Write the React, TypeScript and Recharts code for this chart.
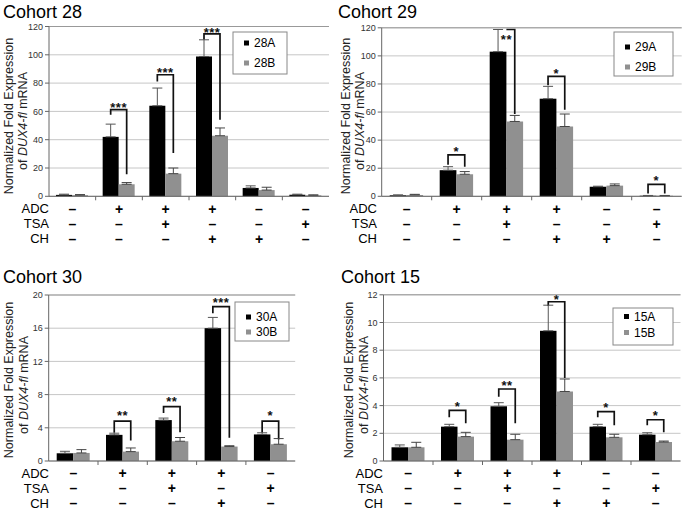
import {
  BarChart,
  Bar,
  XAxis,
  YAxis,
  CartesianGrid,
  ErrorBar,
  ReferenceLine,
} from "recharts";

const FONT = '"Liberation Sans", Arial, Helvetica, sans-serif';

// treatment rows under each panel
const adcSix = ["–", "+", "+", "+", "–", "–"];
const tsaSix = ["–", "–", "+", "–", "–", "+"];
const chSix = ["–", "–", "–", "+", "+", "–"];
const adcFive = ["–", "+", "+", "+", "–"];
const tsaFive = ["–", "–", "+", "–", "+"];
const chFive = ["–", "–", "–", "+", "–"];

// Cohort 28
const c28Names = ["28A", "28B"];
const c28A = [1.0, 42, 64, 98.8, 5.9, 1.1];
const c28AErr = [0.5, 9, 12.5, 11.8, 1.5, 0.4];
const c28B = [0.8, 8.5, 16, 42.8, 4.4, 0.7];
const c28BErr = [0.4, 1.2, 4, 5.5, 2, 0.3];
const c28Ticks = [0, 20, 40, 60, 80, 100, 120];
const c28Sig = [
  { cat: 1, stars: "***", top: 61.2, left: 57.7, right: 15.5, star: 64.5 },
  { cat: 2, stars: "***", top: 85.9, left: 81.2, right: 30.6, star: 89.6 },
  { cat: 3, stars: "***", top: 114.8, left: 110.6, right: 54.1, star: 117.8 },
];

// Cohort 29
const c29Names = ["29A", "29B"];
const c29A = [0.7, 18.6, 103, 69.5, 6.8, 0.4];
const c29AErr = [0.3, 2.5, 15.8, 8.8, 0.4, 0.2];
const c29B = [1.0, 15.7, 53.3, 49.7, 7.6, 0.4];
const c29BErr = [0.4, 1.9, 4.3, 8.9, 1.2, 0.2];
const c29Ticks = [0, 20, 40, 60, 80, 100, 120];
const c29Sig = [
  { cat: 1, stars: "*", top: 29.5, left: 22.4, right: 21, star: 33.5 },
  { cat: 2, stars: "**", top: 118.8, left: 118.8, right: 58.6, star: 113.4, from: "mid" },
  { cat: 3, stars: "*", top: 85.4, left: 79, right: 61.6, star: 89.5 },
  { cat: 5, stars: "*", top: 8.5, left: 2, right: 2, star: 13 },
];

// Cohort 30
const c30Names = ["30A", "30B"];
const c30A = [0.93, 3.15, 4.93, 16, 3.2];
const c30AErr = [0.24, 0.2, 0.24, 1.3, 0.2];
const c30B = [0.97, 1.13, 2.38, 1.74, 2.02];
const c30BErr = [0.4, 0.44, 0.45, 0.1, 0.68];
const c30Ticks = [0, 4, 8, 12, 16, 20];
const c30Sig = [
  { cat: 1, stars: "**", top: 4.8, left: 3.4, right: 2.46, star: 5.8 },
  { cat: 2, stars: "**", top: 6.55, left: 5.77, right: 3.47, star: 7.5 },
  { cat: 3, stars: "***", top: 18.6, left: 17.8, right: 2.8, star: 19.45 },
  { cat: 4, stars: "*", top: 4.8, left: 3.4, right: 2.6, star: 5.8 },
];

// Cohort 15
const c15Names = ["15A", "15B"];
const c15A = [0.99, 2.48, 3.95, 9.4, 2.48, 1.9];
const c15AErr = [0.17, 0.17, 0.26, 1.85, 0.17, 0.14];
const c15B = [0.99, 1.76, 1.54, 5.02, 1.71, 1.37];
const c15BErr = [0.36, 0.31, 0.39, 0.9, 0.22, 0.07];
const c15Ticks = [0, 2, 4, 6, 8, 10, 12];
const c15Sig = [
  { cat: 1, stars: "*", top: 3.66, left: 3.15, right: 2.72, star: 4.1 },
  { cat: 2, stars: "**", top: 5.2, left: 4.64, right: 2.72, star: 5.65 },
  { cat: 3, stars: "*", top: 11.5, left: 11.2, right: 6.0, star: 11.85 },
  { cat: 4, stars: "*", top: 3.56, left: 3.15, right: 2.58, star: 4.04 },
  { cat: 5, stars: "*", top: 2.98, left: 2.58, right: 2.07, star: 3.44 },
];

const PANELS = [
  {
    title: "Cohort 28", x0: 0, y0: 0, w: 340, h: 255,
    plot: { left: 49, top: 26.5, width: 280, height: 169.8 }, barSize: 16,
    names: c28Names, a: c28A, aErr: c28AErr, b: c28B, bErr: c28BErr,
    ticks: c28Ticks, sig: c28Sig, rows: [adcSix, tsaSix, chSix],
    titleAt: [3, 18.3], yLab: { x1: 8, x2: 22, cy: 116, cy2: 121 },
    rowBase: [213, 228, 243], rowRight: 49,
    legend: { x: 233, y: 32, w: 54, h: 42, r1: 11, r2: 31 },
  },
  {
    title: "Cohort 29", x0: 340, y0: 0, w: 345, h: 255,
    plot: { left: 41.7, top: 27.8, width: 300, height: 168.5 }, barSize: 16.7,
    names: c29Names, a: c29A, aErr: c29AErr, b: c29B, bErr: c29BErr,
    ticks: c29Ticks, sig: c29Sig, rows: [adcSix, tsaSix, chSix],
    titleAt: [-2, 18.3], yLab: { x1: 5.5, x2: 19, cy: 116, cy2: 121 },
    rowBase: [213, 228, 243], rowRight: 37,
    legend: { x: 274, y: 32, w: 59, h: 44, r1: 15, r2: 35 },
  },
  {
    title: "Cohort 30", x0: 0, y0: 255, w: 340, h: 255,
    plot: { left: 48.7, top: 40, width: 246.5, height: 166 }, barSize: 16.5,
    names: c30Names, a: c30A, aErr: c30AErr, b: c30B, bErr: c30BErr,
    ticks: c30Ticks, sig: c30Sig, rows: [adcFive, tsaFive, chFive],
    titleAt: [3, 28.3], yLab: { x1: 8, x2: 23, cy: 125, cy2: 130 },
    rowBase: [222.5, 237.5, 252.5], rowRight: 49,
    legend: { x: 235, y: 47, w: 54, h: 39, r1: 15, r2: 30 },
  },
  {
    title: "Cohort 15", x0: 340, y0: 255, w: 345, h: 255,
    plot: { left: 43.5, top: 39.8, width: 297, height: 166.2 }, barSize: 16.5,
    names: c15Names, a: c15A, aErr: c15AErr, b: c15B, bErr: c15BErr,
    ticks: c15Ticks, sig: c15Sig, rows: [adcSix, tsaSix, chSix],
    titleAt: [1, 28.3], yLab: { x1: 8, x2: 23, cy: 125, cy2: 130 },
    rowBase: [222.5, 237.5, 252.5], rowRight: 43,
    legend: { x: 273, y: 53, w: 60, h: 37, r1: 8.5, r2: 24.5 },
  },
];

const ROW_NAMES = ["ADC", "TSA", "CH"];
const Y_W = 30;
const X_H = 5;
const BAR_A = "#000";
const BAR_B = "#909090";

// bar A shape that also draws the significance bracket for its group,
// converting values to pixels with the bar's own scaled height
function makeBracketBar(sig: any[]) {
  return (p: any) => {
    const { x, y, width, height, index, payload } = p;
    const rect = <rect x={x} y={y} width={width} height={height} fill={BAR_A} />;
    const s = sig.find((q) => q.cat === index);
    if (!s || !height) return rect;
    const base = y + height;
    const ppu = height / payload.a;
    const Y = (v: number) => base - v * ppu;
    const cA = x + width / 2;
    const cB = x + width * 1.5;
    const mid = x + width;
    const x1 = s.from === "mid" ? mid : cA;
    const sx = s.from === "mid" ? mid : (cA + cB) / 2;
    const d = `M${x1},${Y(s.left)}V${Y(s.top)}H${cB}V${Y(s.right)}`;
    return (
      <g>
        {rect}
        <path d={d} fill="none" stroke="#111" strokeWidth={1.7} />
        <text
          x={sx}
          y={Y(s.star) + 7}
          textAnchor="middle"
          fontFamily={FONT}
          fontWeight="bold"
          fontSize={13}
          letterSpacing={0.5}
          fill="#111"
        >
          {s.stars}
        </text>
      </g>
    );
  };
}

function Panel({ cfg }: { cfg: any }) {
  const { plot, w, h, barSize } = cfg;
  const n = cfg.a.length;
  const data = cfg.a.map((v: number, i: number) => ({
    cat: i,
    a: v,
    aErr: cfg.aErr[i],
    b: cfg.b[i],
    bErr: cfg.bErr[i],
  }));
  const yMax = cfg.ticks[cfg.ticks.length - 1];
  const catW = plot.width / n;
  const margin = {
    top: plot.top,
    left: plot.left - Y_W,
    right: w - plot.left - plot.width,
    bottom: h - plot.top - plot.height - X_H,
  };
  const boundaryTick = (p: any) =>
    p.index === 0 ? (
      <g />
    ) : (
      <line x1={p.x - catW / 2} x2={p.x - catW / 2} y1={p.y} y2={p.y + 4} stroke="#666" />
    );

  return (
    <div style={{ position: "absolute", left: cfg.x0, top: cfg.y0, width: w, height: h }}>
      <BarChart width={w} height={h} data={data} margin={margin} barGap={0} barSize={barSize}>
        <CartesianGrid vertical={false} stroke="#c6c6c6" />
        <XAxis
          dataKey="cat"
          tickLine={false}
          tickSize={0}
          tickMargin={0}
          tick={boundaryTick}
          interval={0}
          height={X_H}
          stroke="#666"
        />
        <YAxis
          domain={[0, yMax]}
          ticks={cfg.ticks}
          interval={0}
          width={Y_W}
          tickSize={4}
          tickMargin={2}
          stroke="#666"
          tick={{ fontSize: 9, fill: "#333", fontFamily: FONT }}
        />
        <YAxis
          yAxisId="frame"
          orientation="right"
          domain={[0, yMax]}
          width={0}
          tick={false}
          tickLine={false}
          stroke="#999"
        />
        <ReferenceLine y={yMax} stroke="#999" />
        <Bar
          dataKey="a"
          name={cfg.names[0]}
          fill={BAR_A}
          isAnimationActive={false}
          shape={makeBracketBar(cfg.sig)}
        >
          <ErrorBar dataKey={(d: any) => [0, d.aErr]} width={5} stroke="#555" strokeWidth={1} isAnimationActive={false} />
        </Bar>
        <Bar dataKey="b" name={cfg.names[1]} fill={BAR_B} isAnimationActive={false}>
          <ErrorBar dataKey={(d: any) => [0, d.bErr]} width={5} stroke="#444" strokeWidth={1} isAnimationActive={false} />
        </Bar>
      </BarChart>

      <svg
        width={w}
        height={h}
        style={{ position: "absolute", left: 0, top: 0, overflow: "visible", pointerEvents: "none" }}
        fontFamily={FONT}
      >
        <text x={cfg.titleAt[0]} y={cfg.titleAt[1]} fontSize={18} fill="#000">
          {cfg.title}
        </text>
        <text
          transform={`translate(${cfg.yLab.x1 + 4.5},${cfg.yLab.cy}) rotate(-90)`}
          textAnchor="middle"
          fontSize={12.5}
          fill="#222"
        >
          Normalized Fold Expression
        </text>
        <text
          transform={`translate(${cfg.yLab.x2 + 4.5},${cfg.yLab.cy2}) rotate(-90)`}
          textAnchor="middle"
          fontSize={12.5}
          fill="#222"
        >
          of <tspan fontStyle="italic">DUX4-fl</tspan> mRNA
        </text>

        {cfg.rows.map((row: string[], r: number) => (
          <g key={r}>
            <text x={cfg.rowRight} y={cfg.rowBase[r]} textAnchor="end" fontSize={13} fill="#000">
              {ROW_NAMES[r]}
            </text>
            {row.map((sign, i) => (
              <text
                key={i}
                x={plot.left + (i + 0.5) * catW}
                y={cfg.rowBase[r] + 0.5}
                textAnchor="middle"
                fontSize={14}
                fontWeight="bold"
                fill="#000"
              >
                {sign}
              </text>
            ))}
          </g>
        ))}

        <g>
          <rect
            x={cfg.legend.x}
            y={cfg.legend.y}
            width={cfg.legend.w}
            height={cfg.legend.h}
            fill="#fff"
            stroke="#888"
          />
          {[cfg.legend.r1, cfg.legend.r2].map((dy: number, i: number) => (
            <g key={i}>
              <rect
                x={cfg.legend.x + 11}
                y={cfg.legend.y + dy - 2.5}
                width={5}
                height={5}
                fill={i === 0 ? BAR_A : BAR_B}
              />
              <text x={cfg.legend.x + 21} y={cfg.legend.y + dy + 4.3} fontSize={12} fill="#000">
                {cfg.names[i]}
              </text>
            </g>
          ))}
        </g>
      </svg>
    </div>
  );
}

export default function App() {
  return (
    <div style={{ position: "relative", width: 685, height: 510, background: "#fff" }}>
      <style>{`body { margin: 0; }`}</style>
      {PANELS.map((cfg) => (
        <Panel key={cfg.title} cfg={cfg} />
      ))}
    </div>
  );
}
